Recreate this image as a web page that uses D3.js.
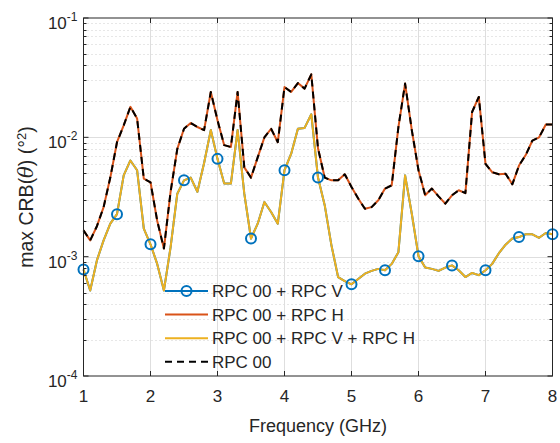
<!DOCTYPE html>
<html lang="en">
<head>
<meta charset="UTF-8">
<title>max CRB vs frequency</title>
<script src="https://d3js.org/d3.v7.min.js"></script>
<style>
body { margin: 0; background: #fff; }
text { font-family: "Liberation Sans", Arial, Helvetica, sans-serif; fill: #262626; }
.grid-major { stroke: #dedede; stroke-width: 1; }
.grid-minor { stroke: #cfcfcf; stroke-width: 1; stroke-dasharray: 1,3; }
</style>
</head>
<body>
<svg width="560" height="443"></svg>
<script>
// frequency samples (GHz)
const freq = [1.0,1.1,1.2,1.3,1.4,1.5,1.6,1.7,1.8,1.9,
  2.0,2.1,2.2,2.3,2.4,2.5,2.6,2.7,2.8,2.9,
  3.0,3.1,3.2,3.3,3.4,3.5,3.6,3.7,3.8,3.9,
  4.0,4.1,4.2,4.3,4.4,4.5,4.6,4.7,4.8,4.9,
  5.0,5.1,5.2,5.3,5.4,5.5,5.6,5.7,5.8,5.9,
  6.0,6.1,6.2,6.3,6.4,6.5,6.6,6.7,6.8,6.9,
  7.0,7.1,7.2,7.3,7.4,7.5,7.6,7.7,7.8,7.9,8.0];

// RPC 00 only (black dashed)
const rpc00 = [1.66e-3,1.37e-3,1.8e-3,2.6e-3,4.6e-3,9.1e-3,1.26e-2,1.8e-2,1.44e-2,4.5e-3,
  4.2e-3,2.0e-3,1.17e-3,3.5e-3,8.0e-3,1.18e-2,1.32e-2,1.22e-2,1.15e-2,2.4e-2,
  1.39e-2,8.6e-3,8.3e-3,2.4e-2,5.6e-3,4.6e-3,6.8e-3,1.0e-2,1.18e-2,9.1e-3,
  2.64e-2,2.4e-2,2.85e-2,2.56e-2,3.37e-2,8.1e-3,4.6e-3,4.36e-3,4.36e-3,4.9e-3,
  3.84e-3,3.07e-3,2.52e-3,2.6e-3,2.97e-3,3.72e-3,3.96e-3,1.22e-2,2.82e-2,1.15e-2,
  5.3e-3,3.27e-3,3.72e-3,3.2e-3,2.78e-3,3.27e-3,3.6e-3,3.41e-3,1.63e-2,2.18e-2,
  6.0e-3,5.1e-3,4.9e-3,4.96e-3,4.04e-3,5.8e-3,7.1e-3,9.4e-3,1.0e-2,1.28e-2,1.28e-2];

// RPC 00 + RPC V + RPC H (yellow)
const rpcVH = [7.8e-4,5.2e-4,9.3e-4,1.37e-3,1.89e-3,2.27e-3,4.8e-3,6.4e-3,5.3e-3,1.72e-3,
  1.27e-3,8.7e-4,5.2e-4,1.2e-3,3.37e-3,4.36e-3,4.6e-3,3.5e-3,6.1e-3,1.15e-2,
  6.6e-3,4.1e-3,4.1e-3,1.15e-2,3.37e-3,1.42e-3,1.89e-3,2.87e-3,2.37e-3,1.89e-3,
  5.3e-3,7.3e-3,1.18e-2,1.2e-2,1.56e-2,4.6e-3,2.7e-3,1.25e-3,6.75e-4,6.25e-4,
  5.87e-4,6.5e-4,7.2e-4,7.6e-4,7.9e-4,7.7e-4,8.7e-4,1.09e-3,4.8e-3,2.29e-3,
  1.01e-3,8.1e-4,7.9e-4,7.6e-4,8.1e-4,8.45e-4,7.7e-4,6.75e-4,7.3e-4,7.0e-4,
  7.7e-4,8.7e-4,1.07e-3,1.26e-3,1.42e-3,1.46e-3,1.54e-3,1.54e-3,1.44e-3,1.58e-3,1.54e-3];

// the V curve lies under the V+H curve, the H curve under RPC 00
const rpcV = rpcVH;
const rpcH = rpc00;

const xTicks = [1,2,3,4,5,6,7,8];
const yTicks = [1e-4,1e-3,1e-2,1e-1];
const yExp = ["-4","-3","-2","-1"];
const legendLabels = ["RPC 00 + RPC V","RPC 00 + RPC H","RPC 00 + RPC V + RPC H","RPC 00"];

var svg = d3.select("svg");
var margin = {left: 83.5, right: 7.5, top: 18, bottom: 67};
var width = +svg.attr("width") - margin.left - margin.right,
    height = +svg.attr("height") - margin.top - margin.bottom;

var x = d3.scaleLinear().domain([1, 8]).range([0, width]);
var y = d3.scaleLog().domain([1e-4, 1e-1]).range([height, 0]);

var g = svg.append("g").attr("transform", "translate(" + margin.left + "," + margin.top + ")");

// minor y values 2..9 per decade
var minor = [];
[1e-4,1e-3,1e-2].forEach(function(d) {
  for (var k = 2; k <= 9; k++) minor.push(d * k);
});

g.append("g").selectAll("line").data(minor).enter().append("line")
  .attr("class", "grid-minor")
  .attr("x1", 0).attr("x2", width)
  .attr("y1", function(d) { return Math.round(y(d)) + 0.5; })
  .attr("y2", function(d) { return Math.round(y(d)) + 0.5; });

g.append("g").selectAll("line").data(yTicks.slice(1, 3)).enter().append("line")
  .attr("class", "grid-major")
  .attr("x1", 0).attr("x2", width)
  .attr("y1", function(d) { return Math.round(y(d)) + 0.5; })
  .attr("y2", function(d) { return Math.round(y(d)) + 0.5; });

g.append("g").selectAll("line").data(xTicks.slice(1, 7)).enter().append("line")
  .attr("class", "grid-major")
  .attr("y1", 0).attr("y2", height)
  .attr("x1", function(d) { return x(d); })
  .attr("x2", function(d) { return x(d); });

// series
var line = function(vals) {
  return d3.line()
    .x(function(d, i) { return x(freq[i]); })
    .y(function(d) { return y(d); })(vals);
};

var series = [
  {vals: rpcV, color: "#0072BD", dash: null},
  {vals: rpcH, color: "#D95319", dash: null},
  {vals: rpcVH, color: "#EDB120", dash: null},
  {vals: rpc00, color: "#000000", dash: "7,5"}
];

series.forEach(function(s) {
  g.append("path")
    .attr("d", line(s.vals))
    .attr("fill", "none")
    .attr("stroke", s.color)
    .attr("stroke-width", 2)
    .attr("stroke-linejoin", "round")
    .attr("stroke-dasharray", s.dash);
});

// markers on the blue curve every 0.5 GHz
var markIdx = freq.map(function(d, i) { return i; }).filter(function(i) { return i % 5 == 0; });
g.append("g").selectAll("circle").data(markIdx).enter().append("circle")
  .attr("cx", function(i) { return x(freq[i]); })
  .attr("cy", function(i) { return y(rpcV[i]); })
  .attr("r", 5)
  .attr("fill", "none")
  .attr("stroke", "#0072BD")
  .attr("stroke-width", 2);

// axes box + ticks
g.append("rect")
  .attr("width", width).attr("height", height)
  .attr("fill", "none").attr("stroke", "#262626").attr("stroke-width", 1);

var ticks = g.append("g").attr("stroke", "#262626").attr("stroke-width", 1);
xTicks.forEach(function(d) {
  ticks.append("line").attr("x1", x(d)).attr("x2", x(d)).attr("y1", height).attr("y2", height - 5);
  ticks.append("line").attr("x1", x(d)).attr("x2", x(d)).attr("y1", 0).attr("y2", 5);
});
yTicks.forEach(function(d) {
  ticks.append("line").attr("x1", 0).attr("x2", 5).attr("y1", y(d)).attr("y2", y(d));
  ticks.append("line").attr("x1", width).attr("x2", width - 5).attr("y1", y(d)).attr("y2", y(d));
});
minor.forEach(function(d) {
  var yy = Math.round(y(d)) + 0.5;
  ticks.append("line").attr("x1", 0).attr("x2", 3).attr("y1", yy).attr("y2", yy);
  ticks.append("line").attr("x1", width).attr("x2", width - 3).attr("y1", yy).attr("y2", yy);
});

// tick labels
g.append("g").selectAll("text").data(xTicks).enter().append("text")
  .attr("x", function(d) { return x(d); })
  .attr("y", height + 26)
  .attr("text-anchor", "middle")
  .attr("font-size", 17)
  .text(function(d) { return d; });

var yl = g.append("g").selectAll("text").data(yTicks).enter().append("text")
  .attr("x", -6)
  .attr("y", function(d) { return y(d) + 11; })
  .attr("text-anchor", "end")
  .attr("font-size", 17);
yl.append("tspan").text("10");
yl.append("tspan")
  .attr("dy", -8)
  .attr("font-size", 12)
  .text(function(d, i) { return yExp[i]; });

// axis titles
g.append("text")
  .attr("x", width / 2)
  .attr("y", height + 56)
  .attr("text-anchor", "middle")
  .attr("font-size", 18)
  .text("Frequency (GHz)");

var yt = svg.append("text")
  .attr("transform", "translate(33," + (margin.top + height / 2) + ") rotate(-90)")
  .attr("text-anchor", "middle")
  .attr("font-size", 19.5);
yt.append("tspan").text("max CRB(");
yt.append("tspan").attr("font-style", "italic").attr("font-family", "'DejaVu Serif', serif").text("θ");
yt.append("tspan").text(") (°");
yt.append("tspan").attr("dy", -7).attr("font-size", 13).text("2");
yt.append("tspan").attr("dy", 7).text(")");

// legend (no box, transparent)
var leg = svg.append("g").attr("transform", "translate(165,291)");
series.forEach(function(s, i) {
  var row = leg.append("g").attr("transform", "translate(0," + (i * 23.6) + ")");
  row.append("line")
    .attr("x1", 0).attr("x2", 43)
    .attr("stroke", s.color).attr("stroke-width", 2)
    .attr("stroke-dasharray", s.dash);
  if (i == 0) {
    row.append("circle").attr("cx", 21.5).attr("r", 5)
      .attr("fill", "none").attr("stroke", s.color).attr("stroke-width", 2);
  }
  row.append("text")
    .attr("x", 47).attr("y", 6)
    .attr("font-size", 17)
    .text(legendLabels[i]);
});
</script>
</body>
</html>
